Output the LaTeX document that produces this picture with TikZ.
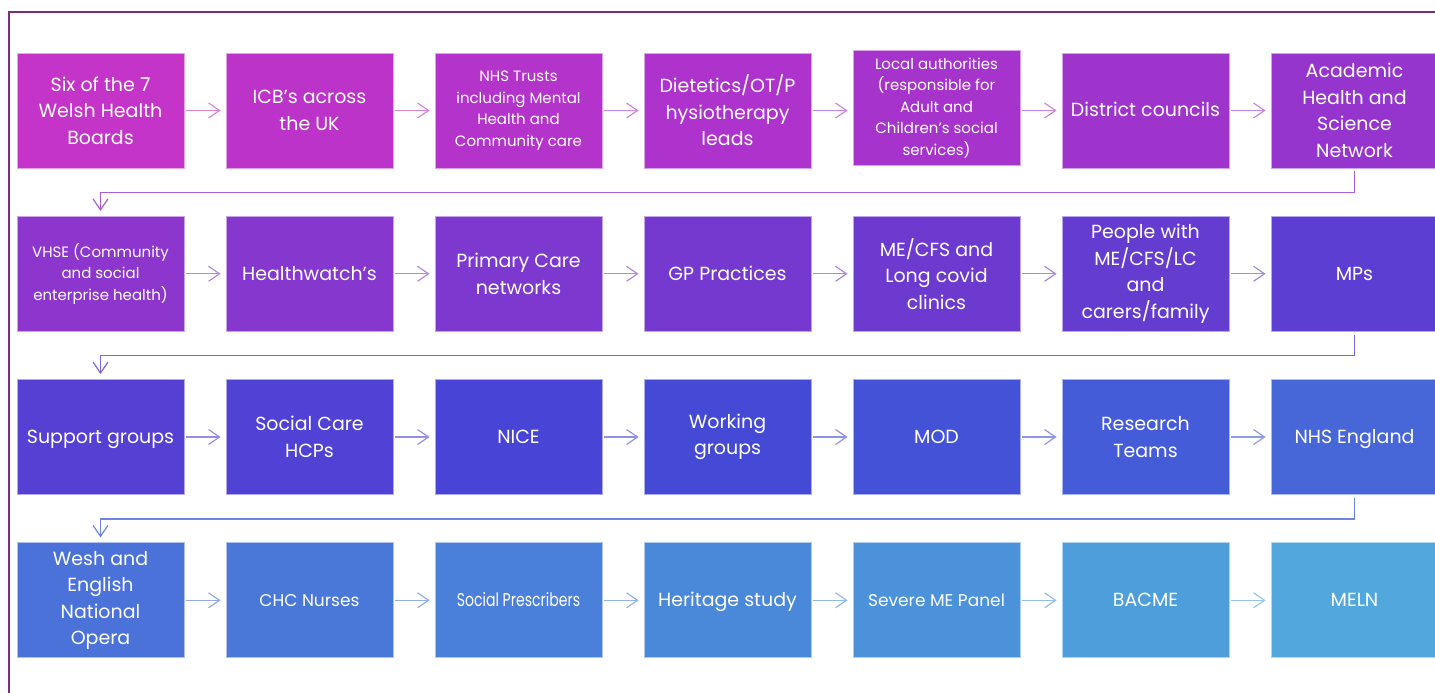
\documentclass[tikz,border=0pt]{standalone}
\usepackage{fontspec}
\setmainfont{Poppins}
\usetikzlibrary{arrows.meta}

\newcommand{\boxfont}{\fontsize{19}{26.5}\selectfont}
\newcommand{\boxfontsmall}{\fontsize{15}{21.5}\selectfont}
\newcommand{\boxfontmid}{\fontsize{17}{24}\selectfont}
\newcommand{\boxfontnarrow}{\fontsize{18.5}{24}\selectfont\addfontfeature{FakeStretch=0.76}}

\definecolor{frame}{HTML}{7B2D7E}
\definecolor{c01}{HTML}{C434C8}
\definecolor{c02}{HTML}{BC33C9}
\definecolor{c03}{HTML}{B433CB}
\definecolor{c04}{HTML}{AD33CC}
\definecolor{c05}{HTML}{A634CC}
\definecolor{c06}{HTML}{9F34CD}
\definecolor{c07}{HTML}{9535CE}
\definecolor{c08}{HTML}{8D36CE}
\definecolor{c09}{HTML}{8537CE}
\definecolor{c10}{HTML}{7D38CF}
\definecolor{c11}{HTML}{7539CF}
\definecolor{c12}{HTML}{6D3ACF}
\definecolor{c13}{HTML}{653CD0}
\definecolor{c14}{HTML}{5C3ED2}
\definecolor{c15}{HTML}{5640D4}
\definecolor{c16}{HTML}{4F42D5}
\definecolor{c17}{HTML}{4844D6}
\definecolor{c18}{HTML}{4449D6}
\definecolor{c19}{HTML}{4452D8}
\definecolor{c20}{HTML}{455CD8}
\definecolor{c21}{HTML}{4767D8}
\definecolor{c22}{HTML}{4A72D9}
\definecolor{c23}{HTML}{4A78D9}
\definecolor{c24}{HTML}{4A80DA}
\definecolor{c25}{HTML}{4A89DA}
\definecolor{c26}{HTML}{4B92DB}
\definecolor{c27}{HTML}{4E9EDB}
\definecolor{c28}{HTML}{52A8DC}

\begin{document}
\begin{tikzpicture}[x=1pt,y=-1pt]

    \tikzset{stage/.style={fill=#1,draw=#1!45!white,line width=0.8,text=white,
        minimum width=167,minimum height=115,inner sep=0,align=center,font=\boxfont}}
    \tikzset{single/.style={text height=12.5pt,text depth=0pt}}
    \tikzset{flow/.style={-{Straight Barb[length=11,width=15]},line width=1.2,
        shorten <=2,shorten >=5,draw=#1!60!white}}
    \tikzset{turn/.style={-{Straight Barb[length=11,width=15]},line width=1.2,
        shorten <=3,shorten >=5,draw=#1!80!white}}

    \useasboundingbox (0,0) rectangle (1435,693);
    \draw[frame,line width=2.5] (9,693) -- (9,12) -- (1435,12);

    % first row
    \node[stage=c01] (b01) at (100.5,110.5) {Six of the 7\\Welsh Health\\Boards};
    \node[stage=c02] (b02) at (309.5,110.5) {ICB's across\\the UK};
    \node[stage=c03,font=\boxfontsmall] (b03) at (518.5,110.5) {NHS Trusts\\including Mental\\Health and\\Community care};
    \node[stage=c04] (b04) at (727.5,110.5) {Dietetics/OT/P\\hysiotherapy\\leads};
    \node[stage=c05,font=\boxfontsmall] (b05) at (936.5,108) {Local authorities\\(responsible for\\Adult and\\Children's social\\services)};
    \node[stage=c06,single] (b06) at (1145.5,110.5) {District councils};
    \node[stage=c07] (b07) at (1354.5,110.5) {Academic\\Health and\\Science\\Network};

    % second row
    \node[stage=c08,font=\boxfontsmall] (b08) at (100.5,273.8) {VHSE (Community\\and social\\enterprise health)};
    \node[stage=c09,single] (b09) at (309.5,273.8) {Healthwatch's};
    \node[stage=c10] (b10) at (518.5,273.8) {Primary Care\\networks};
    \node[stage=c11,single] (b11) at (727.5,273.8) {GP Practices};
    \node[stage=c12] (b12) at (936.5,273.8) {ME/CFS and\\Long covid\\clinics};
    \node[stage=c13] (b13) at (1145.5,273.8) {People with\\ME/CFS/LC\\and\\carers/family};
    \node[stage=c14,single] (b14) at (1354.5,273.8) {MPs};

    % third row
    \node[stage=c15,single] (b15) at (100.5,437) {Support groups};
    \node[stage=c16] (b16) at (309.5,437) {Social Care\\HCPs};
    \node[stage=c17,single] (b17) at (518.5,437) {NICE};
    \node[stage=c18] (b18) at (727.5,437) {Working\\groups};
    \node[stage=c19,single] (b19) at (936.5,437) {MOD};
    \node[stage=c20] (b20) at (1145.5,437) {Research\\Teams};
    \node[stage=c21,single] (b21) at (1354.5,437) {NHS England};

    % fourth row
    \node[stage=c22] (b22) at (100.5,600.3) {Wesh and\\English\\National\\Opera};
    \node[stage=c23,single,font=\boxfontmid] (b23) at (309.5,600.3) {CHC Nurses};
    \node[stage=c24,single,font=\boxfontnarrow] (b24) at (518.5,600.3) {Social Prescribers};
    \node[stage=c25,single] (b25) at (727.5,600.3) {Heritage study};
    \node[stage=c26,single,font=\boxfontmid] (b26) at (936.5,600.3) {Severe ME Panel};
    \node[stage=c27,single] (b27) at (1145.5,600.3) {BACME};
    \node[stage=c28,single] (b28) at (1354.5,600.3) {MELN};

    \draw[flow=c01] (b01) -- (b02);
    \draw[flow=c02] (b02) -- (b03);
    \draw[flow=c03] (b03) -- (b04);
    \draw[flow=c04] (b04) -- (b05.west |- b04);
    \draw[flow=c05] (b05.east |- b06) -- (b06);
    \draw[flow=c06] (b06) -- (b07);

    \draw[flow=c08] (b08) -- (b09);
    \draw[flow=c09] (b09) -- (b10);
    \draw[flow=c10] (b10) -- (b11);
    \draw[flow=c11] (b11) -- (b12);
    \draw[flow=c12] (b12) -- (b13);
    \draw[flow=c13] (b13) -- (b14);

    \draw[flow=c15] (b15) -- (b16);
    \draw[flow=c16] (b16) -- (b17);
    \draw[flow=c17] (b17) -- (b18);
    \draw[flow=c18] (b18) -- (b19);
    \draw[flow=c19] (b19) -- (b20);
    \draw[flow=c20] (b20) -- (b21);

    \draw[flow=c22] (b22) -- (b23);
    \draw[flow=c23] (b23) -- (b24);
    \draw[flow=c24] (b24) -- (b25);
    \draw[flow=c25] (b25) -- (b26);
    \draw[flow=c26] (b26) -- (b27);
    \draw[flow=c27] (b27) -- (b28);

    % from the end of one row back to the start of the next
    \draw[turn=c07] (b07.south) -- ++(0,24) -| (b08.north);
    \draw[turn=c14] (b14.south) -- ++(0,24) -| (b15.north);
    \draw[turn=c21] (b21.south) -- ++(0,24) -| (b22.north);

\end{tikzpicture}
\end{document}
